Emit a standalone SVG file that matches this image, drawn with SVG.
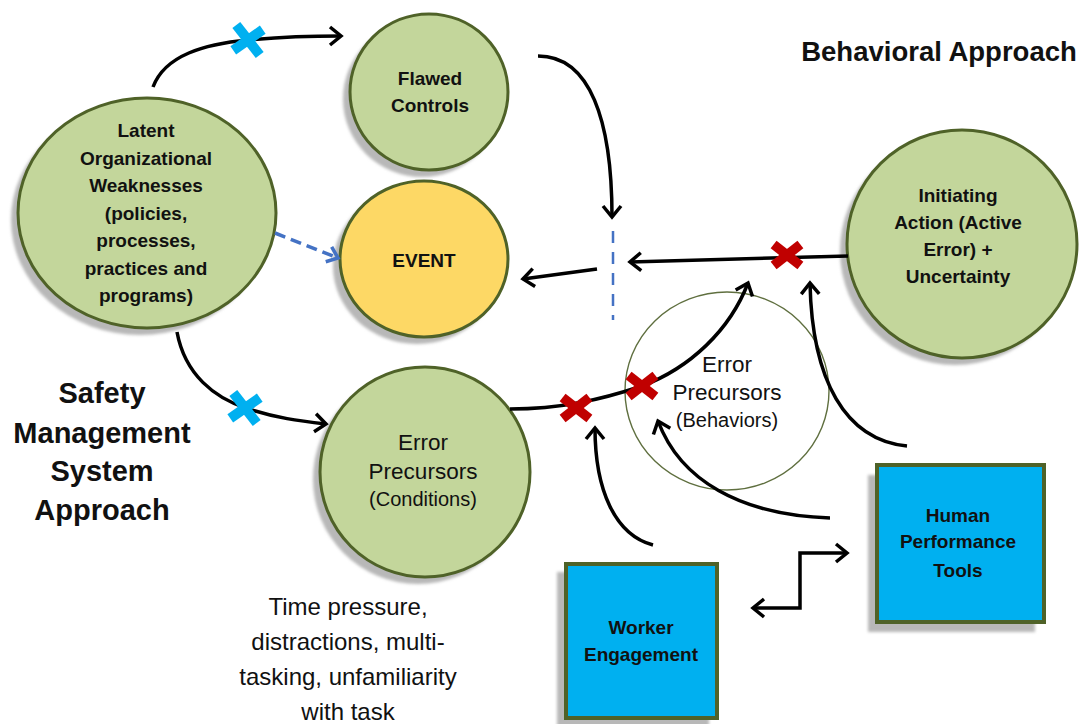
<svg xmlns="http://www.w3.org/2000/svg" width="1083" height="724" viewBox="0 0 1083 724">
  <style>
    .green { fill: #c3d69b; stroke: #4f6228; stroke-width: 3; }
    .event { fill: #fdd865; stroke: #4f6228; stroke-width: 3; }
    .thin { fill: none; stroke: #5f6f3f; stroke-width: 1.4; }
    .box { fill: #00b0f0; stroke: #4f6228; stroke-width: 4; }
    .shadow { fill: #b8b8b8; filter: url(#soft); }
    text { font-family: "Liberation Sans", Arial, sans-serif; fill: #111; text-anchor: middle; }
    .b19 { font-size: 19px; font-weight: bold; }
    .r22 { font-size: 22.5px; }
    .r20 { font-size: 20px; }
    .head { font-size: 29px; font-weight: bold; }
    .note { font-size: 24px; }
    .conn { fill: none; stroke: #000; stroke-width: 3.5; marker-end: url(#arrow); }
    .dash { fill: none; stroke: #4472c4; stroke-width: 3.5; stroke-dasharray: 11 6; marker-end: url(#arrowBlue); }
    .barrier { fill: none; stroke: #4472c4; stroke-width: 2.5; stroke-dasharray: 12 9; }
    .xblue { fill: #00b0f0; }
    .xred { fill: #c00000; }
  </style>
  <defs>
    <filter id="soft" x="-10%" y="-10%" width="120%" height="120%">
      <feGaussianBlur stdDeviation="1.5"/>
    </filter>
    <marker id="arrow" markerUnits="userSpaceOnUse" viewBox="-14 -11 16 22" refX="0" refY="0" markerWidth="16" markerHeight="22" orient="auto-start-reverse" overflow="visible">
      <path d="M-11,-9 L0,0 L-11,9" fill="none" stroke="#000" stroke-width="3.5" stroke-linejoin="miter"/>
    </marker>
    <marker id="arrowBlue" markerUnits="userSpaceOnUse" viewBox="-14 -11 16 22" refX="0" refY="0" markerWidth="16" markerHeight="22" orient="auto" overflow="visible">
      <path d="M-10,-8 L0,0 L-10,8" fill="none" stroke="#4472c4" stroke-width="3.5"/>
    </marker>
    <!-- barrier crosses -->
    <g id="cross">
      <rect x="-19" y="-5" width="38" height="10" transform="rotate(52)"/>
      <rect x="-18" y="-5" width="36" height="10" transform="rotate(-35)"/>
    </g>
    <g id="crossRed">
      <rect x="-17" y="-4.8" width="34" height="9.6" transform="rotate(38)"/>
      <rect x="-17" y="-4.8" width="34" height="9.6" transform="rotate(-38)"/>
    </g>
  </defs>

  <rect width="1083" height="724" fill="#fff"/>

  <!-- headings -->
  <text class="head" x="939" y="61" style="font-size:27.5px">Behavioral Approach</text>
  <g id="sms-heading">
    <text class="head" x="102" y="403">Safety</text>
    <text class="head" x="102" y="443">Management</text>
    <text class="head" x="102" y="481">System</text>
    <text class="head" x="102" y="520">Approach</text>
  </g>

  <!-- nodes -->
  <g id="latent">
    <ellipse class="shadow" cx="140" cy="220" rx="129" ry="115"/>
    <ellipse class="green" cx="147" cy="213" rx="129" ry="115"/>
    <text class="b19" x="146" y="137">Latent</text>
    <text class="b19" x="146" y="164.5">Organizational</text>
    <text class="b19" x="146" y="192">Weaknesses</text>
    <text class="b19" x="146" y="219.5">(policies,</text>
    <text class="b19" x="146" y="247">processes,</text>
    <text class="b19" x="146" y="274.5">practices and</text>
    <text class="b19" x="146" y="302">programs)</text>
  </g>

  <g id="flawed-controls">
    <ellipse class="shadow" cx="422" cy="99" rx="79" ry="78"/>
    <ellipse class="green" cx="429" cy="92" rx="79" ry="78"/>
    <text class="b19" x="430" y="85">Flawed</text>
    <text class="b19" x="430" y="112">Controls</text>
  </g>

  <g id="event">
    <ellipse class="shadow" cx="417" cy="266" rx="84" ry="78"/>
    <ellipse class="event" cx="424" cy="259" rx="84" ry="78"/>
    <text class="b19" x="424" y="267">EVENT</text>
  </g>

  <g id="precursors-conditions">
    <ellipse class="shadow" cx="418" cy="479" rx="105" ry="105"/>
    <ellipse class="green" cx="425" cy="472" rx="105" ry="105"/>
    <text class="r22" x="423" y="450">Error</text>
    <text class="r22" x="423" y="479">Precursors</text>
    <text class="r20" x="423" y="506">(Conditions)</text>
  </g>

  <g id="precursors-behaviors">
    <ellipse class="thin" cx="727" cy="391" rx="102" ry="99"/>
    <text class="r22" x="727" y="372">Error</text>
    <text class="r22" x="727" y="400">Precursors</text>
    <text class="r20" x="727" y="427">(Behaviors)</text>
  </g>

  <g id="initiating-action">
    <ellipse class="shadow" cx="955" cy="251" rx="115" ry="114"/>
    <ellipse class="green" cx="962" cy="244" rx="115" ry="114"/>
    <text class="b19" x="958" y="202">Initiating</text>
    <text class="b19" x="958" y="229">Action (Active</text>
    <text class="b19" x="958" y="256">Error) +</text>
    <text class="b19" x="958" y="283">Uncertainty</text>
  </g>

  <g id="worker-engagement">
    <rect class="shadow" x="557" y="572" width="152" height="155"/>
    <rect class="box" x="566" y="564" width="151" height="154"/>
    <text class="b19" x="641" y="634">Worker</text>
    <text class="b19" x="641" y="661">Engagement</text>
  </g>

  <g id="hp-tools">
    <rect class="shadow" x="868" y="475" width="167" height="157"/>
    <rect class="box" x="877" y="465" width="167" height="157"/>
    <text class="b19" x="958" y="522">Human</text>
    <text class="b19" x="958" y="548">Performance</text>
    <text class="b19" x="958" y="577">Tools</text>
  </g>

  <!-- connectors -->
  <g id="connectors">
    <path class="conn" d="M153,87 C165,55 205,44 248,40 C280,37 310,36 341,36"/>
    <path class="conn" d="M177,332 C185,375 215,398 246,408 C275,418 300,421 326,424"/>
    <path class="dash" d="M275,233 L338,258"/>
    <path class="conn" d="M538,56 C590,56 612,120 612,217"/>
    <line class="barrier" x1="613" y1="231" x2="613" y2="320"/>
    <path class="conn" d="M597,269 L523,279"/>
    <path class="conn" d="M848,256 L630,262"/>
    <path class="conn" d="M510,409 C560,409 600,400 642,386 C690,368 730,330 748,283"/>
    <path class="conn" d="M907,446 C845,440 812,380 810,283"/>
    <path class="conn" d="M830,518 C740,515 680,480 658,421"/>
    <path class="conn" d="M653,545 C615,535 595,490 595,428"/>
    <path class="conn" d="M753,608 H800 V553 H847" style="marker-start:url(#arrow)"/>
  </g>

  <!-- barrier marks -->
  <g id="barriers">
    <use href="#cross" class="xblue" transform="translate(248,40)"/>
    <use href="#cross" class="xblue" transform="translate(245,408)"/>
    <use href="#crossRed" class="xred" transform="translate(787,255)"/>
    <use href="#crossRed" class="xred" transform="translate(576,408)"/>
    <use href="#crossRed" class="xred" transform="translate(642,386)"/>
  </g>

  <g id="precursor-examples">
    <text class="note" x="348" y="615">Time pressure,</text>
    <text class="note" x="348" y="650">distractions, multi-</text>
    <text class="note" x="348" y="685">tasking, unfamiliarity</text>
    <text class="note" x="348" y="720">with task</text>
  </g>
</svg>
